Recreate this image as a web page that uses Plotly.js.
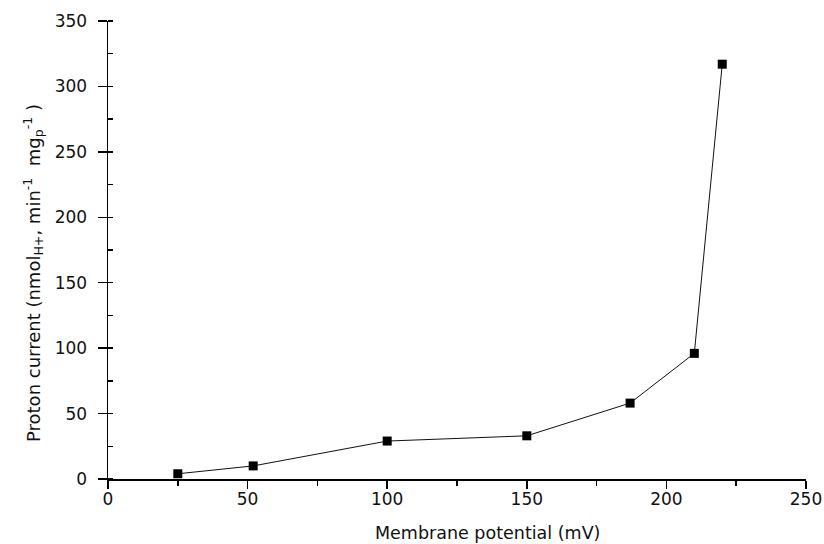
<!DOCTYPE html>
<html>
<head>
<meta charset="utf-8">
<script src="https://cdn.plot.ly/plotly-3.0.1.min.js"></script>
<style>html,body{margin:0;padding:0;background:#fff;}#chart{width:824px;height:544px;}</style>
</head>
<body>
<div id="chart"></div>
<script>
const membranePotential = [25, 52, 100, 150, 187, 210, 220];
const protonCurrent = [4, 10, 29, 33, 58, 96, 317];
const xTickVals = [0, 50, 100, 150, 200, 250];
const yTickVals = [0, 50, 100, 150, 200, 250, 300, 350];
const xTitle = 'Membrane potential (mV)';
const yTitle = 'Proton current (nmol<sub>H+</sub>,\u00a0min<sup>-1</sup>\u00a0\u00a0mg<sub>p</sub><sup>-1</sup>\u00a0)';

const fam = '"DejaVu Sans", Arial, sans-serif';

Plotly.newPlot('chart', [{
  x: membranePotential,
  y: protonCurrent,
  type: 'scatter',
  mode: 'lines+markers',
  line: {color: '#111', width: 1},
  marker: {symbol: 'square', size: 9, color: '#000'},
  showlegend: false
}], {
  width: 824, height: 544,
  margin: {l: 108, r: 18, t: 21, b: 65},
  paper_bgcolor: '#fff', plot_bgcolor: '#fff',
  font: {family: fam, color: '#111'},
  xaxis: {
    range: [0, 250], tickvals: xTickVals, ticks: 'outside', ticklen: 8, tickwidth: 1.5,
    tickcolor: '#000', showline: true, linecolor: '#000', linewidth: 1.5,
    showgrid: false, zeroline: false, tickfont: {family: fam, size: 17, color: '#111'},
    ticklabelstandoff: -4,
    minor: {dtick: 25, tick0: 0, ticks: 'outside', ticklen: 5, tickcolor: '#000', showgrid: false}
  },
  yaxis: {
    range: [0, 350], tickvals: yTickVals, ticks: 'outside', ticklen: 9, tickwidth: 1.5,
    tickcolor: '#000', showline: true, linecolor: '#000', linewidth: 1.5,
    showgrid: false, zeroline: false, tickfont: {family: fam, size: 17, color: '#111'},
    ticklabelstandoff: 7,
    minor: {dtick: 25, tick0: 0, ticks: 'inside', ticklen: 5, tickcolor: '#000', showgrid: false}
  },
  annotations: [
    {text: xTitle, xref: 'paper', yref: 'paper', x: (487 - 108) / 698, y: -(533 - 479) / 458,
     xanchor: 'center', yanchor: 'middle', showarrow: false, font: {family: fam, size: 17.5, color: '#111'}},
    {text: yTitle, xref: 'paper', yref: 'paper', x: -(108 - 33) / 698, y: (479 - 273) / 458,
     xanchor: 'center', yanchor: 'middle', textangle: -90, showarrow: false, font: {family: fam, size: 18, color: '#111'}}
  ]
}, {staticPlot: true});
</script>
</body>
</html>
